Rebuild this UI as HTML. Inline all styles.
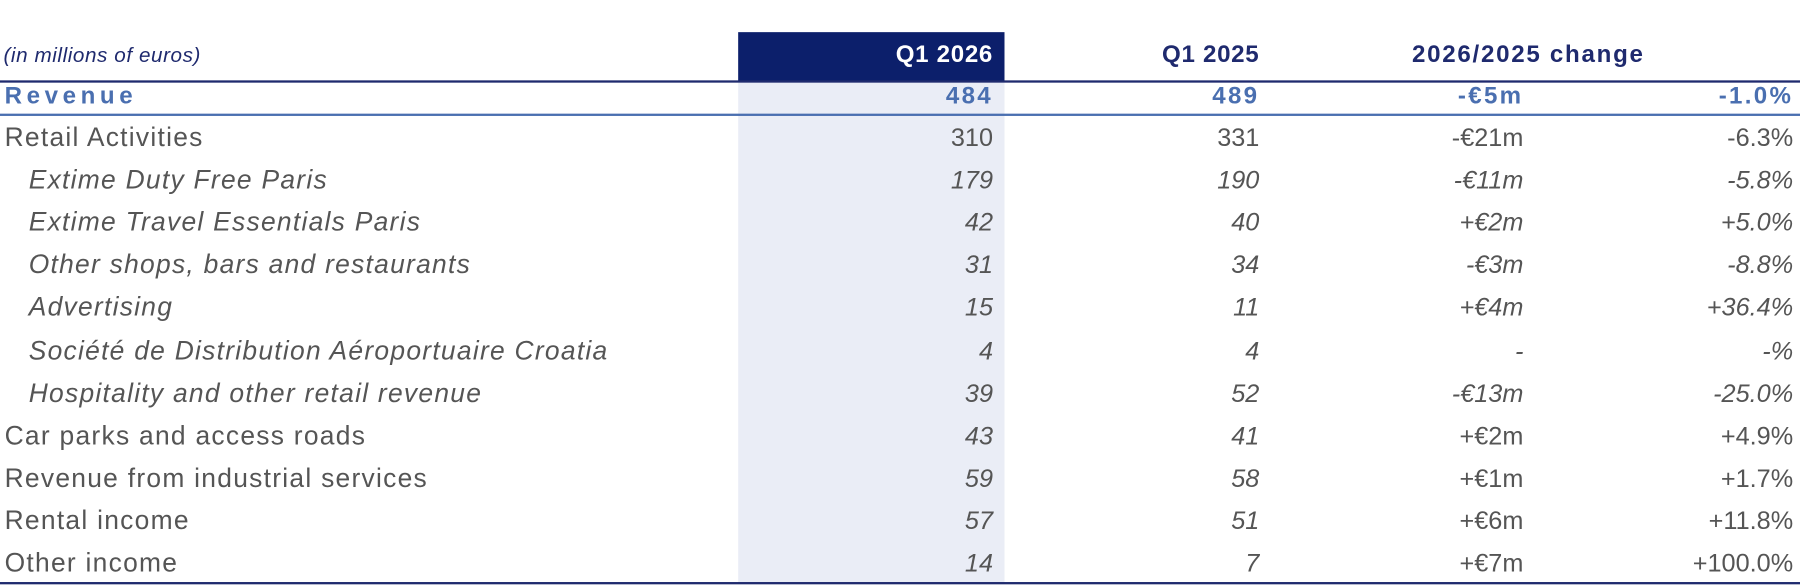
<!DOCTYPE html>
<html><head><meta charset="utf-8"><style>
body{margin:0;width:1800px;height:586px;background:#fff;font-family:"Liberation Sans",sans-serif;position:relative;overflow:hidden}
#w{position:absolute;left:0;top:0;width:1568px;height:510px;transform:scale(1.148);transform-origin:0 0}
.a{position:absolute;white-space:nowrap}
.r{text-align:right}
.t{font-size:22px;color:#555;line-height:37px}
.l{font-size:23px;letter-spacing:1.1px}
.i{font-style:italic}
.h{font-size:21px;font-weight:bold;color:#1f2a6e;line-height:40px;top:28px;letter-spacing:0.6px}
.v{font-size:21px;font-weight:bold;color:#4a6fb0;letter-spacing:2px;line-height:28px;top:70px}
</style></head><body><div id="w">
<div class="a" style="left:643px;top:28px;width:232px;height:43px;background:#0c1f6b"></div>
<div class="a" style="left:643px;top:71px;width:232px;height:437px;background:#eaedf6"></div>
<div class="a" style="left:0;top:70px;width:1568px;height:2px;background:#1f2a6e"></div>
<div class="a" style="left:0;top:99px;width:1568px;height:2px;background:#4a6fb0"></div>
<div class="a" style="left:0;top:507px;width:1568px;height:2px;background:#1f2a6e"></div>
<div class="a i" style="left:3px;top:33px;font-size:18px;color:#1f2a6e;line-height:30px;letter-spacing:0.5px">(in millions of euros)</div>
<div class="a h r" style="left:600px;width:265px;color:#fff">Q1 2026</div>
<div class="a h r" style="left:850px;width:247px">Q1 2025</div>
<div class="a h" style="left:1230px;letter-spacing:1.5px">2026/2025 change</div>
<div class="a v" style="left:4px;letter-spacing:4px">Revenue</div>
<div class="a v r" style="left:700px;width:165px">484</div>
<div class="a v r" style="left:930px;width:167px">489</div>
<div class="a v r" style="left:1160px;width:167px">-€5m</div>
<div class="a v r" style="left:1390px;width:172px">-1.0%</div>
<div id="rows"></div>
</div>
<script>
var d=[["Retail Activities","310","331","-€21m","-6.3%",0,0],
["Extime Duty Free Paris","179","190","-€11m","-5.8%",1,1],
["Extime Travel Essentials Paris","42","40","+€2m","+5.0%",1,1],
["Other shops, bars and restaurants","31","34","-€3m","-8.8%",1,1],
["Advertising","15","11","+€4m","+36.4%",1,1],
["Société de Distribution Aéroportuaire Croatia","4","4","-","-%",1,1],
["Hospitality and other retail revenue","39","52","-€13m","-25.0%",1,1],
["Car parks and access roads","43","41","+€2m","+4.9%",0,2],
["Revenue from industrial services","59","58","+€1m","+1.7%",0,2],
["Rental income","57","51","+€6m","+11.8%",0,2],
["Other income","14","7","+€7m","+100.0%",0,2]];
var h="";d.forEach(function(r,k){var y=101+k*37.1;
var li=r[6]==1?" i":"", ni=r[6]>=1?" i":"";
h+='<div class="a t l'+li+'" style="left:'+(r[5]?25:4)+'px;top:'+y+'px">'+r[0]+'</div>';
h+='<div class="a t r'+ni+'" style="left:700px;width:165px;top:'+y+'px">'+r[1]+'</div>';
h+='<div class="a t r'+ni+'" style="left:930px;width:167px;top:'+y+'px">'+r[2]+'</div>';
h+='<div class="a t r'+li+'" style="left:1160px;width:167px;top:'+y+'px">'+r[3]+'</div>';
h+='<div class="a t r'+li+'" style="left:1390px;width:172px;top:'+y+'px">'+r[4]+'</div>';});
document.getElementById("rows").innerHTML=h;
</script>
</body></html>
